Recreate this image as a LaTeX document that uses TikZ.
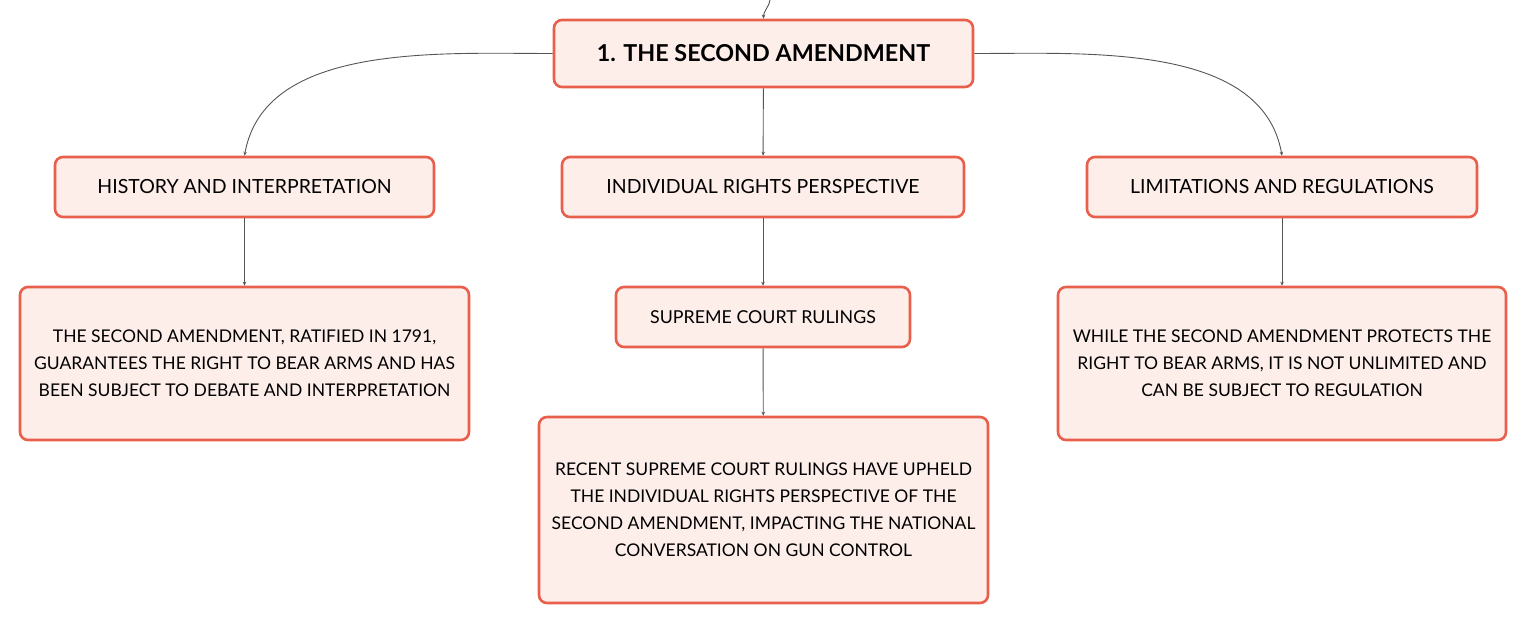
\documentclass[tikz,border=0pt]{standalone}
\usepackage{fontspec}
\setmainfont{Lato}
\usepackage{tikz}
\usetikzlibrary{arrows.meta, positioning, calc}

\definecolor{boxline}{HTML}{E8604C}
\definecolor{boxfill}{HTML}{FDEEEA}
\definecolor{linkgray}{HTML}{555555}

\tikzset{
    topic/.style={draw=boxline, fill=boxfill, line width=2.6pt, rounded corners=8pt,
        align=center, font=\fontsize{17.5}{27}\selectfont, inner sep=0pt},
    subtopic/.style={topic, font=\fontsize{19.5}{27}\selectfont},
    link/.style={draw=linkgray, line width=0.9pt, -{Stealth[length=4pt,width=3.5pt]}}
}

\begin{document}
\begin{tikzpicture}[x=1pt, y=-1pt]
        \useasboundingbox (0,0) rectangle (1527,624);

        \node[topic, minimum width=419pt, minimum height=67pt, font=\bfseries\fontsize{23.3}{27}\selectfont] (amend) at (763.5,53.5) {1. THE SECOND AMENDMENT};
        \node[subtopic, minimum width=379pt, minimum height=60pt] (hist) at (244.5,187) {HISTORY AND INTERPRETATION};
        \node[subtopic, minimum width=402pt, minimum height=60pt] (indiv) at (763,187) {INDIVIDUAL RIGHTS PERSPECTIVE};
        \node[subtopic, minimum width=390pt, minimum height=60pt] (limit) at (1282,187) {LIMITATIONS AND REGULATIONS};
        \node[topic, minimum width=449pt, minimum height=153pt] (histtxt) at (244.5,363.5) {THE SECOND AMENDMENT, RATIFIED IN 1791,\\ GUARANTEES THE RIGHT TO BEAR ARMS AND HAS\\ BEEN SUBJECT TO DEBATE AND INTERPRETATION};
        \node[topic, minimum width=294pt, minimum height=60pt, font=\fontsize{17.8}{27}\selectfont] (court) at (763,317) {SUPREME COURT RULINGS};
        \node[topic, minimum width=449pt, minimum height=186pt] (courttxt) at (763.5,510) {RECENT SUPREME COURT RULINGS HAVE UPHELD\\ THE INDIVIDUAL RIGHTS PERSPECTIVE OF THE\\ SECOND AMENDMENT, IMPACTING THE NATIONAL\\ CONVERSATION ON GUN CONTROL};
        \node[topic, minimum width=448pt, minimum height=153pt] (limittxt) at (1282,363.5) {WHILE THE SECOND AMENDMENT PROTECTS THE\\ RIGHT TO BEAR ARMS, IT IS NOT UNLIMITED AND\\ CAN BE SUBJECT TO REGULATION};
        \coordinate (parent) at (770,0);

        \draw[link] (parent) to[out=-100, in=90] (amend.north);
        \draw[link] (amend.west) to[out=180, in=80, looseness=0.9] (hist.north);
        \draw[link] (amend) -- (indiv);
        \draw[link] (amend.east) to[out=0, in=100, looseness=0.9] (limit.north);
        \draw[link] (hist) -- (histtxt);
        \draw[link] (indiv) -- (court);
        \draw[link] (court) -- (courttxt);
        \draw[link] (limit) -- (limittxt);
    \end{tikzpicture}
\end{document}
